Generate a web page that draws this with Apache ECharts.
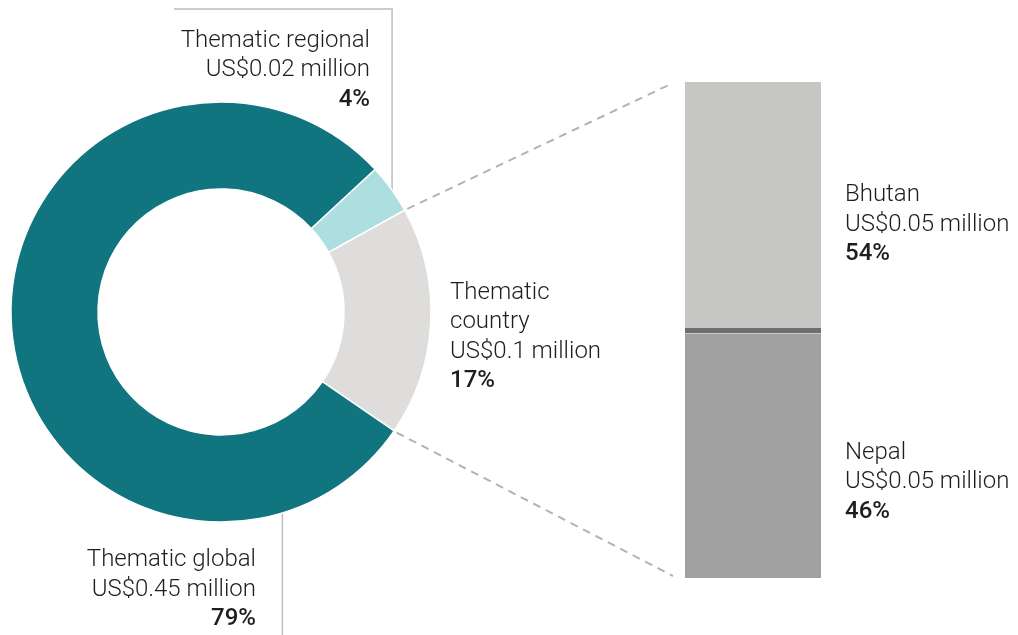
<!DOCTYPE html>
<html><head><meta charset="utf-8">
<script src="https://cdn.jsdelivr.net/npm/echarts@6/dist/echarts.min.js"></script>
<style>html,body{margin:0;padding:0;background:#fff}#c{width:1018px;height:635px}</style>
</head><body><div id="c"></div>
<script>
// ---- data ----
const pieNames = ['Thematic regional', 'Thematic\ncountry', 'Thematic global'];
const pieValues = [0.022, 0.101, 0.45];
const pieAmountLabels = ['US$0.02 million', 'US$0.1 million', 'US$0.45 million'];
const piePctLabels = ['4%', '17%', '79%'];
const barCategory = ['Thematic country'];
const barNames = ['Nepal', 'Bhutan'];
const barValues = [0.0493, 0.0507];
const barAmountLabels = ['US$0.05 million', 'US$0.05 million'];
const barPctLabels = ['46%', '54%'];

// ---- layout / style ----
const PIE_C = [221, 312], R_IN = 123, R_OUT = 210, START = 42.8;
const GRID = {left: 685, top: 82, width: 136, height: 496};
const pieColors = ['#AEDFE0', '#DEDDDC', '#11757F'];
const barColors = ['#A0A0A0', '#C6C6C5'];
const TXT = '#1E1E1E';
const FONT = 'Roboto';
const pieLabelPos = [
  {x: 370, y: 26, align: 'right'},
  {x: 450, y: 278, align: 'left'},
  {x: 256, y: 545.5, align: 'right'}
];
const barLabelPos = [{x: 845, y: 438}, {x: 845, y: 180.5}];

const rich = {
  a: {fontFamily: FONT, fontSize: 24, fontWeight: 300, lineHeight: 29.5, color: TXT},
  b: {fontFamily: FONT, fontSize: 24, fontWeight: 500, lineHeight: 29.5, color: TXT}
};
function fmt(name, amt, pct) {
  return name.split('\n').map(s => '{a|' + s + '}').concat(['{a|' + amt + '}', '{b|' + pct + '}']).join('\n');
}

const total = pieValues.reduce((a, b) => a + b, 0);
const deg = Math.PI / 180;
function pt(angle, r) { return [PIE_C[0] + r * Math.cos(angle * deg), PIE_C[1] - r * Math.sin(angle * deg)]; }
const b1 = START - pieValues[0] / total * 360;
const b2 = b1 - pieValues[1] / total * 360;
const regAnchor = START - pieValues[0] / total * 360 * 0.56;
const regStart = pt(regAnchor, R_OUT - 1);
const gloStart = pt(-73, R_OUT);

const dashStyle = {stroke: '#B3B3B3', lineWidth: 2, lineDash: [8, 6], fill: null};
const p1 = pt(b1, R_OUT + 3), p2 = pt(b2, R_OUT + 3);

const option = {
  animation: false,
  backgroundColor: '#fff',
  grid: {left: GRID.left, top: GRID.top, width: GRID.width, height: GRID.height},
  xAxis: {type: 'category', data: barCategory, show: false},
  yAxis: {type: 'value', min: 0, max: barValues.reduce((a, b) => a + b, 0), show: false},
  graphic: [
    {type: 'polyline', silent: true, shape: {points: [p1, [GRID.left - 12, GRID.top + 1]]}, style: dashStyle},
    {type: 'polyline', silent: true, shape: {points: [p2, [GRID.left - 12, GRID.top + GRID.height - 2]]}, style: dashStyle}
  ],
  series: [
    {
      type: 'pie',
      center: PIE_C,
      radius: [R_IN, R_OUT],
      startAngle: START,
      clockwise: true,
      avoidLabelOverlap: false,
      emphasis: {disabled: true},
      itemStyle: {borderColor: '#fff', borderWidth: 1.5},
      label: {show: true, position: 'outside', rich: rich},
      labelLine: {show: true, lineStyle: {color: '#BDBDBD', width: 1.5}},
      data: pieNames.map((n, i) => ({
        name: n, value: pieValues[i],
        itemStyle: {color: pieColors[i]},
        label: {formatter: fmt(n, pieAmountLabels[i], piePctLabels[i])},
        labelLine: {show: i !== 1}
      })),
      labelLayout: function (p) {
        const i = p.dataIndex, pos = pieLabelPos[i];
        const out = {x: pos.x, y: pos.y, align: pos.align, verticalAlign: 'top'};
        if (i === 0) out.labelLinePoints = [regStart, [regStart[0], 9], [174, 9]];
        if (i === 2) out.labelLinePoints = [gloStart, [gloStart[0], 640], [gloStart[0], 640]];
        return out;
      }
    },
    ...barNames.map((n, k) => ({
      type: 'bar',
      name: n,
      stack: 'c',
      barWidth: '100%',
      z: 2 + k,
      emphasis: {disabled: true},
      itemStyle: {color: barColors[k]},
      data: [barValues[k]],
      label: {show: true, position: 'right', rich: rich,
              formatter: fmt(n, barAmountLabels[k], barPctLabels[k])},
      labelLayout: function () {
        return {x: barLabelPos[k].x, y: barLabelPos[k].y, align: 'left', verticalAlign: 'top'};
      },
      markLine: k === 1 ? {
        symbol: 'none', silent: true, label: {show: false},
        lineStyle: {color: '#6E6E6E', width: 5, type: 'solid'},
        data: [{yAxis: barValues[0]}]
      } : undefined
    }))
  ]
};
const chart = echarts.init(document.getElementById('c'), null, {renderer: 'canvas'});
chart.setOption(option);
</script></body></html>
